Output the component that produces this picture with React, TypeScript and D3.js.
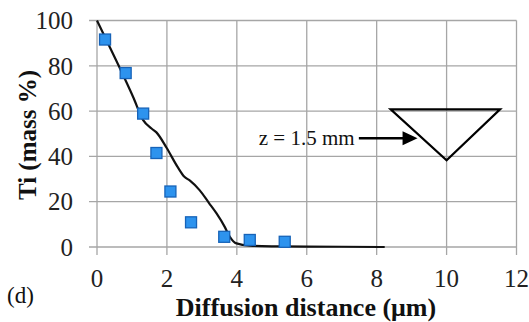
import * as d3 from "d3";

// measured Ti profile (squares) and simulated profile (line)
const measX = [0.23, 0.82, 1.32, 1.7, 2.1, 2.69, 3.64, 4.37, 5.37];
const measY = [91.6, 76.8, 58.9, 41.5, 24.5, 10.9, 4.5, 3.1, 2.3];

const simX = [0, 0.56, 1.04, 1.32, 1.56, 1.7, 1.99, 2.3, 2.5, 2.66, 2.94, 3.2, 3.42, 3.65, 3.8, 3.99, 4.37, 5, 6, 7, 8.23];
const simY = [100, 82, 66, 56, 52.3, 50.6, 43.8, 35.5, 31, 29.3, 25, 19.5, 14.8, 9, 4.5, 1.6, 0.6, 0.3, 0.2, 0.1, 0];

const xTicks = [0, 2, 4, 6, 8, 10, 12];
const yTicks = [0, 20, 40, 60, 80, 100];

const FONT = "Liberation Serif";

export default function App() {
  const W = 529;
  const H = 322;
  const x = d3.scaleLinear().domain([0, 12]).range([97, 516.5]);
  const y = d3.scaleLinear().domain([0, 100]).range([247, 20.5]);

  const sim = simX.map((v, i) => [v, simY[i]] as [number, number]);
  const line = d3
    .line<[number, number]>()
    .x((d) => x(d[0]))
    .y((d) => y(d[1]))
    .curve(d3.curveMonotoneX);

  // inset sketch: tool triangle + arrow pointing at it
  const tri: [number, number][] = [
    [8.4, 60.8],
    [11.53, 60.8],
    [10, 38.3],
  ];
  const triPath = "M" + tri.map((p) => `${x(p[0])},${y(p[1])}`).join("L") + "Z";
  const arrowY = y(48);
  const arrowX0 = x(7.49);
  const arrowX1 = x(9.17);

  const grid = "#a6a6a6";
  const sq = 11;

  return (
    <svg
      width={W}
      height={H}
      style={{ position: "absolute", left: 0, top: 0, background: "#fff" }}
    >
      {/* horizontal gridlines with tick stubs on the left */}
      {yTicks.map((t) => (
        <line key={"h" + t} x1={89} x2={x(12)} y1={y(t)} y2={y(t)} stroke={grid} strokeWidth={1.3} />
      ))}
      {/* vertical gridlines with tick stubs below */}
      {xTicks.map((t) => (
        <line key={"v" + t} x1={x(t)} x2={x(t)} y1={y(100)} y2={y(0) + 8} stroke={grid} strokeWidth={1.3} />
      ))}

      {yTicks.map((t) => (
        <text
          key={"yl" + t}
          x={73}
          y={y(t)}
          dy="0.35em"
          textAnchor="end"
          fontFamily={FONT}
          fontSize={25}
          fill="#222"
        >
          {t}
        </text>
      ))}
      {xTicks.map((t) => (
        <text
          key={"xl" + t}
          x={x(t)}
          y={287}
          textAnchor="middle"
          fontFamily={FONT}
          fontSize={25}
          fill="#222"
        >
          {t}
        </text>
      ))}

      <path d={line(sim) ?? ""} fill="none" stroke="#111" strokeWidth={2.2} />

      {measX.map((v, i) => (
        <rect
          key={"m" + i}
          x={x(v) - sq / 2}
          y={y(measY[i]) - sq / 2}
          width={sq}
          height={sq}
          fill="#2d93ee"
          stroke="#1763b8"
          strokeWidth={1.3}
        />
      ))}

      <path d={triPath} fill="none" stroke="#000" strokeWidth={2.2} />
      <line x1={arrowX0} x2={arrowX1 - 12} y1={arrowY} y2={arrowY} stroke="#000" strokeWidth={2.5} />
      <path
        d={`M${arrowX1},${arrowY}L${arrowX1 - 15},${arrowY - 7}L${arrowX1 - 15},${arrowY + 7}Z`}
        fill="#000"
      />
      <text x={x(7.37)} y={y(45)} textAnchor="end" fontFamily={FONT} fontSize={21} fill="#111">
        z = 1.5 mm
      </text>

      <text
        transform={`translate(36,135) rotate(-90)`}
        textAnchor="middle"
        fontFamily={FONT}
        fontSize={25}
        fontWeight="bold"
        fill="#111"
      >
        Ti (mass %)
      </text>
      <text
        x={306}
        y={316}
        textAnchor="middle"
        fontFamily={FONT}
        fontSize={26}
        fontWeight="bold"
        fill="#111"
      >
        Diffusion distance (μm)
      </text>
      <text x={7} y={303} fontFamily={FONT} fontSize={23} fill="#111">
        (d)
      </text>
    </svg>
  );
}
